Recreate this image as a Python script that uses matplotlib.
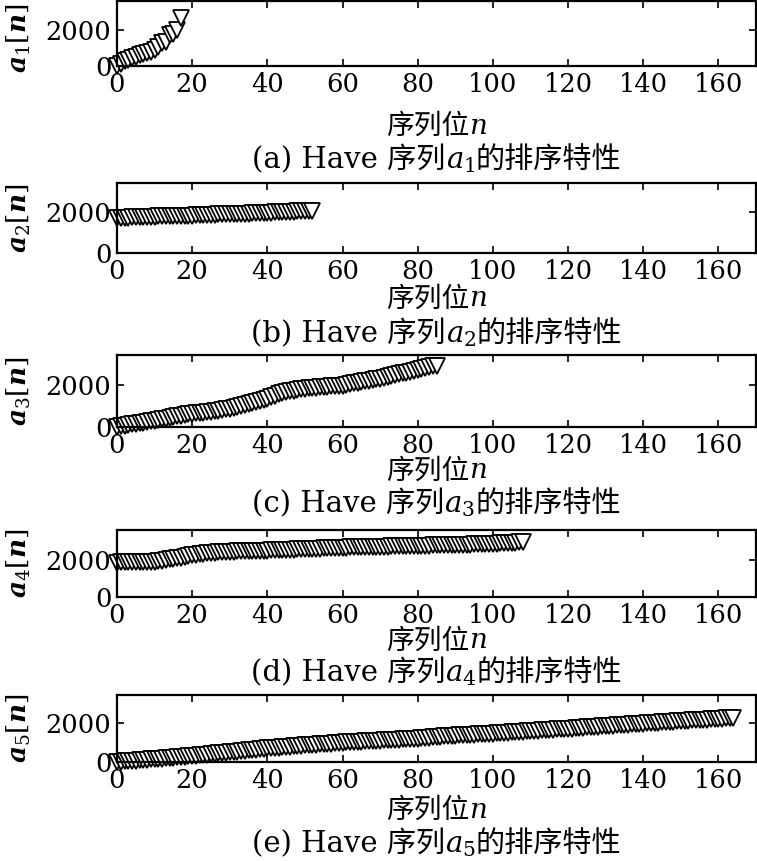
import numpy as np
import matplotlib
matplotlib.use("Agg")
import matplotlib.pyplot as plt
from matplotlib.offsetbox import TextArea, HPacker, AnnotationBbox

plt.rcParams['font.family'] = ['DejaVu Serif', 'Noto Sans CJK SC']
plt.rcParams['mathtext.fontset'] = 'dejavuserif'

# sorted sequence values (index n starts at 0)
a1 = [0, 100, 250, 350, 430, 520, 600, 680, 720, 780, 880, 1050, 1250, 1350,
      1700, 1800, 1980, 2650]

a2 = [1700, 1710, 1715, 1720, 1725, 1730, 1735, 1740, 1745, 1750,
      1770, 1775, 1780, 1785, 1790, 1795, 1800, 1805, 1810, 1815,
      1820, 1825, 1830, 1850, 1860, 1865, 1870, 1875, 1880, 1885,
      1890, 1895, 1900, 1905, 1910, 1915, 1920, 1925, 1930, 1935,
      1960, 1965, 1970, 1975, 1980, 1990, 2000, 2010, 2020, 2030,
      2040, 2045, 2050]

a3 = [0, 30, 60, 90, 120, 150, 180, 210, 240, 265,
      290, 320, 360, 400, 440, 470, 500, 540, 570, 600,
      620, 640, 660, 680, 700, 720, 740, 770, 800, 830,
      860, 900, 950, 1000, 1050, 1100, 1150, 1200, 1250, 1290,
      1330, 1400, 1470, 1540, 1600, 1640, 1680, 1720, 1750, 1780,
      1810, 1825, 1840, 1855, 1870, 1885, 1900, 1915, 1930, 1940,
      1950, 1985, 2020, 2055, 2090, 2125, 2160, 2195, 2230, 2260,
      2290, 2330, 2370, 2410, 2450, 2490, 2530, 2570, 2610, 2640,
      2670, 2720, 2770, 2820, 2860, 2900]

a4 = [1850, 1855, 1860, 1860, 1865, 1870, 1870, 1875, 1880, 1885,
      1900, 1930, 1960, 1990, 2020, 2050, 2080, 2110, 2150, 2200,
      2250, 2280, 2300, 2320, 2340, 2360, 2380, 2395, 2410, 2420,
      2430, 2440, 2445, 2450, 2455, 2460, 2465, 2470, 2480, 2485,
      2490, 2500, 2505, 2510, 2520, 2530, 2540, 2545, 2555, 2565,
      2570, 2575, 2585, 2590, 2600, 2610, 2615, 2625, 2635, 2640,
      2650, 2655, 2660, 2665, 2670, 2675, 2680, 2685, 2690, 2695,
      2700, 2705, 2710, 2715, 2720, 2725, 2730, 2735, 2740, 2745,
      2750, 2755, 2760, 2765, 2770, 2775, 2780, 2785, 2790, 2795,
      2800, 2805, 2810, 2815, 2820, 2830, 2835, 2840, 2845, 2850,
      2860, 2870, 2880, 2890, 2900, 2910, 2920, 2935, 2950]

a5 = [0, 15, 30, 45, 60, 75, 90, 100, 115, 130,
      145, 160, 175, 190, 205, 220, 240, 255, 270, 285,
      300, 320, 340, 360, 380, 400, 420, 440, 455, 470,
      490, 510, 530, 550, 570, 590, 610, 630, 650, 670,
      690, 705, 720, 735, 750, 765, 780, 795, 810, 825,
      840, 855, 870, 885, 900, 910, 920, 930, 945, 960,
      975, 990, 1000, 1015, 1030, 1040, 1050, 1060, 1070, 1080,
      1090, 1100, 1110, 1120, 1130, 1140, 1150, 1160, 1170, 1180,
      1190, 1205, 1220, 1235, 1250, 1265, 1280, 1295, 1310, 1325,
      1335, 1345, 1355, 1365, 1375, 1390, 1400, 1410, 1420, 1430,
      1440, 1455, 1470, 1480, 1490, 1505, 1520, 1530, 1545, 1560,
      1570, 1580, 1595, 1605, 1620, 1630, 1645, 1655, 1670, 1680,
      1690, 1700, 1715, 1730, 1740, 1755, 1770, 1780, 1795, 1810,
      1820, 1835, 1850, 1860, 1875, 1890, 1900, 1915, 1930, 1940,
      1950, 1965, 1975, 1990, 2000, 2010, 2025, 2035, 2050, 2060,
      2070, 2085, 2095, 2110, 2120, 2130, 2145, 2155, 2170, 2180,
      2195, 2205, 2220, 2235, 2250]

series = [a1, a2, a3, a4, a5]
letters = ['a', 'b', 'c', 'd', 'e']
xticks = [0, 20, 40, 60, 80, 100, 120, 140, 160]
yticks = [0, 2000]

W, H = 757, 861
fig = plt.figure(figsize=(W / 100, H / 100), dpi=100)

# pixel boxes (top, bottom) of each panel, plus y-limits and text rows
boxes = [(1, 66), (183, 253), (355, 427), (530, 597), (695, 762)]
ytops = [3600, 3400, 3400, 3600, 3400]
xlab_y = [126, 299, 471, 641, 810]
cap_y = [160, 334, 504, 673, 844]
ylab_pos = [0.43, 0.5, 0.5, 0.5, 0.5]
left, right = 117, 756


def text_row(parts, x, y, fs):
    # mix plain text (with CJK fallback) and mathtext pieces on one baseline
    kids = [TextArea(s, textprops=dict(fontsize=fs)) for s in parts]
    box = HPacker(children=kids, align='baseline', pad=0, sep=0)
    ab = AnnotationBbox(box, (x, y), xycoords='figure fraction',
                        frameon=False, box_alignment=(0.5, 0.5), pad=0)
    fig.add_artist(ab)


for i, vals in enumerate(series):
    top, bot = boxes[i]
    ax = fig.add_axes([left / W, 1 - bot / H, (right - left) / W, (bot - top) / H])
    n = np.arange(len(vals))
    ax.plot(n, vals, linestyle='none', marker='v', markersize=11,
            markerfacecolor='white', markeredgecolor='black', markeredgewidth=1.3,
            clip_on=False)
    ax.set_xlim(0, 170)
    ax.set_ylim(0, ytops[i])
    ax.set_xticks(xticks)
    ax.set_yticks(yticks)
    ax.tick_params(direction='in', top=True, right=True, length=5, width=1.2,
                   labelsize=18.5, pad=4)
    for s in ax.spines.values():
        s.set_linewidth(1.6)
    ax.set_ylabel(r'$\mathbfit{a}_{%d}[\mathbfit{n}]$' % (i + 1), fontsize=19)
    ax.yaxis.set_label_coords((33 - left) / (right - left), ylab_pos[i])
    cx = (left + right) / 2 / W
    text_row(['序列位', r'$n$'], cx, 1 - xlab_y[i] / H, 20)
    text_row(['(%s) Have 序列' % letters[i], r'$a_{%d}$' % (i + 1), '的排序特性'],
             cx, 1 - cap_y[i] / H, 21)

fig.savefig('out.png', dpi=100)
